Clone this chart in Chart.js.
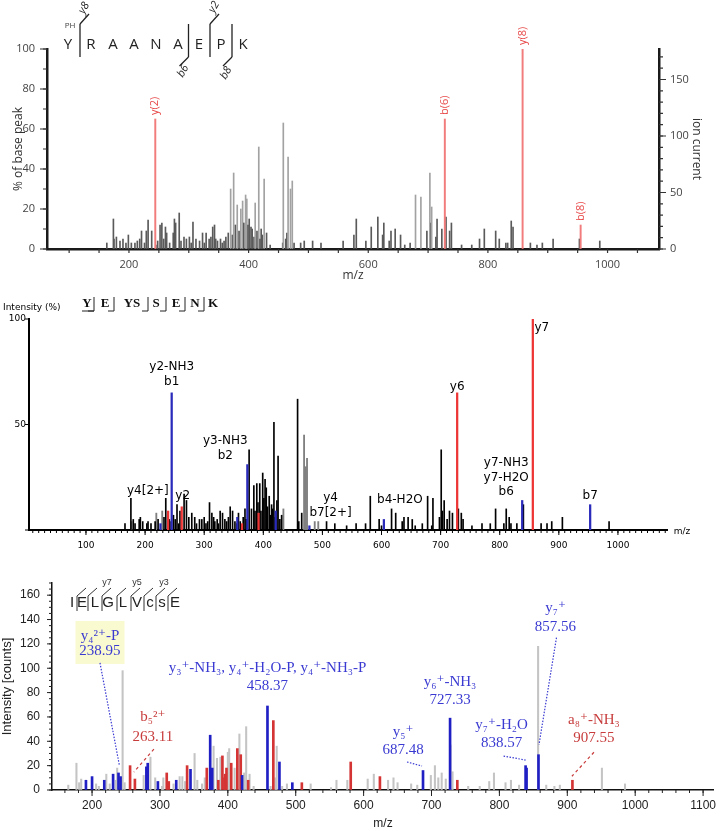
<!DOCTYPE html>
<html>
<head>
<meta charset="utf-8">
<title>MS/MS spectra</title>
<script src="https://cdn.jsdelivr.net/npm/chart.js@4.4.1/dist/chart.umd.min.js"></script>
<style>
  body { margin: 0; background: #fff; }
  .wrap { position: relative; width: 724px; height: 831px; overflow: hidden; }
  canvas { position: absolute; left: 0; }
</style>
</head>
<body>
<div class="wrap">
  <canvas id="top" width="724" height="290" style="top:0"></canvas>
  <canvas id="mid" width="724" height="265" style="top:290px"></canvas>
  <canvas id="bottom" width="724" height="276" style="top:555px"></canvas>
</div>
<script>
// ---- panel 1: YRAANAEPK (% of base peak) ----
const p1GreyMz = [
  163, 174, 175, 179, 185, 190, 195, 199, 204, 210,
  214, 218, 221, 226, 229, 232, 238, 245, 248, 252,
  255, 258, 261, 263, 268, 274, 276, 278, 284, 287,
  292, 296, 301, 304, 307, 312, 318, 323, 326, 329,
  334, 337, 340, 343, 345, 348, 353, 356, 359, 362,
  366, 370, 373, 375, 378, 381, 384, 387, 390, 392,
  395, 397, 399, 401, 404, 406, 409, 411, 414, 417,
  419, 421, 423, 426, 430, 436, 457, 458, 462, 464,
  466, 470, 473, 476, 487, 493, 507, 521, 558, 576,
  580, 596, 605, 616, 624, 626, 635, 638, 645, 654,
  661, 670, 679, 688, 698, 703, 705, 706, 713, 715,
  723, 730, 736, 739, 756, 773, 786, 794, 813, 819,
  830, 833, 839, 842, 871, 882, 891, 909, 953, 987
];
const p1GreyInt = [
  3, 15, 5, 6, 4, 5, 3, 7, 3, 3,
  4, 5, 9, 3, 9, 14.5, 9, 2, 4, 12,
  13, 5, 11, 8, 3, 8, 15, 13, 18, 4,
  6, 5, 6, 3, 13.5, 5, 4, 8, 3, 8,
  5, 6, 11, 12, 5, 4, 5, 3, 4, 6,
  8, 30, 7, 38, 12, 22, 9, 20, 24, 13,
  27, 25, 12, 15, 11, 10, 6, 23, 9, 51,
  5, 10, 7, 35, 8, 2, 3, 63, 5, 8,
  46, 30, 34, 3, 3, 4, 4, 3, 4, 7,
  15, 4, 11, 16, 7, 13, 4, 9, 10, 7,
  2, 3, 27, 26, 9, 38, 13, 21, 6, 15,
  10, 16, 9, 13, 2, 2, 5, 10, 9, 5,
  3, 3, 14, 11, 3, 2, 3, 5, 5, 4
];
const p1RedMz = [244, 728, 858, 955];
const p1RedInt = [65, 65, 100, 12];
const p1RedLabels = ['y(2)', 'b(6)', 'y(8)', 'b(8)'];
const p1XTicks = [200, 400, 600, 800, 1000];
const p1YTicks = [0, 20, 40, 60, 80, 100];
const p1IonTicks = [0, 50, 100, 150];
const p1IonMax = 177;
const p1Residues = ['Y', 'R', 'A', 'A', 'N', 'A', 'E', 'P', 'K'];

// ---- panel 2: YEYSSENK (Intensity %) ----
const p2BlackMz = [
  166, 176, 180, 183, 190, 192, 196, 203, 205, 210,
  217, 222, 232, 235, 241, 244, 248, 251, 254, 257,
  259, 266, 270, 274, 279, 284, 287, 292, 296, 300,
  303, 306, 309, 313, 316, 318, 322, 324, 327, 331,
  335, 338, 341, 344, 348, 352, 355, 358, 361, 366,
  369, 371, 376, 380, 384, 386, 389, 391, 394, 396,
  399, 401, 403, 405, 407, 410, 412, 414, 416, 418,
  420, 423, 425, 428, 431, 458, 460, 465, 507, 521,
  541, 557, 573, 581, 596, 600, 617, 624, 635, 638,
  645, 652, 657, 669, 678, 685, 687, 698, 701, 703,
  706, 711, 715, 720, 730, 735, 738, 753, 770, 784,
  793, 807, 811, 816, 819, 829, 840, 870, 880, 888,
  906, 985
];
const p2BlackInt = [
  3, 15, 5, 3, 5, 6, 4, 3, 4, 3,
  4, 5, 6, 15, 5, 4, 7, 5, 12, 3,
  9, 17, 14, 6, 8, 6, 3, 5, 5, 6,
  3, 4, 13, 8, 6, 4, 5, 3, 9, 8,
  5, 4, 6, 11, 9, 4, 3, 8, 4, 6,
  10, 5, 38, 10, 21, 9, 22, 13, 22, 9,
  27, 15, 24, 20, 11, 16, 7, 12, 10, 51,
  6, 14, 35, 5, 7, 62, 4, 8, 4, 3,
  2, 3, 3, 16, 5, 2, 10, 8, 4, 6,
  6, 5, 2, 3, 16, 2, 15, 6, 38, 9,
  14, 5, 9, 8, 10, 8, 5, 2, 3, 3,
  10, 3, 10, 6, 3, 3, 12, 3, 3, 4,
  6, 4
];
const p2GreyMz = [177, 219, 229, 434, 469, 472, 474, 487, 493];
const p2GreyInt = [4, 8, 9, 10, 45, 30, 34, 4, 4];
const p2BlueMz = [226, 245, 356, 373, 421, 478, 604, 838, 953];
const p2BlueInt = [3, 65, 6, 31, 9, 2, 5, 14, 12];
const p2RedMz = [239, 262, 364, 392, 728, 856];
const p2RedInt = [9, 11, 3, 8, 65, 100];
const p2AnnText = [['y2-NH3', 'b1'], ['y3-NH3', 'b2'], ['y4[2+]'], ['y2'], ['y4', 'b7[2+]'],
                   ['b4-H2O'], ['y6'], ['y7'], ['y7-NH3', 'y7-H2O', 'b6'], ['b7']];
const p2AnnMz = [245, 373, 176, 262, 507, 604, 728, 856, 838, 953];
const p2XTicks = [100, 200, 300, 400, 500, 600, 700, 800, 900, 1000];
const p2YTicks = [50, 100];
const p2Residues = ['Y', 'E', 'YS', 'S', 'E', 'N', 'K'];

// ---- panel 3: IELGLVcsE (counts) ----
const p3GreyMz = [
  165, 177, 181, 184, 206, 210, 221, 226, 235, 237,
  245, 248, 276, 286, 293, 303, 305, 320, 329, 333,
  337, 351, 355, 362, 366, 379, 384, 389, 400, 402,
  410, 417, 424, 427, 432, 438, 463, 470, 472, 480,
  487, 522, 552, 560, 576, 606, 615, 636, 644, 650,
  670, 679, 699, 705, 710, 715, 721, 728, 731, 754,
  771, 785, 792, 809, 817, 829, 857, 869, 881, 889,
  951, 985
];
const p3GreyInt = [
  4, 22, 6, 9, 5, 3, 13, 5, 8, 18,
  98, 6, 12, 27, 10, 3, 10, 5, 11, 11,
  7, 30, 8, 5, 10, 36, 26, 27, 31, 34,
  18, 46, 14, 52, 13, 3, 3, 10, 36, 3,
  5, 5, 2, 8, 8, 9, 13, 8, 10, 6,
  5, 4, 12, 20, 10, 14, 9, 37, 15, 3,
  3, 7, 14, 6, 8, 4, 118, 4, 3, 4,
  18, 5
];
const p3BlueMz = [191, 200, 218, 231, 238.95, 242, 280, 282, 297, 324,
                  345, 374, 377, 421, 458.37, 476, 495, 687.48, 727.33, 838.57,
                  840, 857.56];
const p3BlueInt = [8, 11, 8, 13, 14, 11, 19, 22, 7, 8,
                   17, 45, 18, 12, 69, 23, 6, 16, 59, 20,
                   18, 29];
const p3RedMz = [256, 263.11, 310, 313, 340, 369, 386, 392, 395, 396,
                 398, 405, 414, 419, 430, 467, 509, 581, 624, 738,
                 907.55];
const p3RedInt = [20, 9, 14, 7, 20, 18, 8, 28, 10, 13,
                  18, 22, 34, 29, 8, 57, 6, 23, 11, 8,
                  8];
const p3AnnName = ['y₄²⁺-P', 'b₅²⁺', 'y₃⁺-NH₃, y₄⁺-H₂O-P, y₄⁺-NH₃-P', 'y₇⁺',
                   'y₆⁺-NH₃', 'y₅⁺', 'y₇⁺-H₂O', 'a₈⁺-NH₃'];
const p3AnnMz = [238.95, 263.11, 458.37, 857.56, 727.33, 687.48, 838.57, 907.55];
const p3XTicks = [200, 300, 400, 500, 600, 700, 800, 900, 1000, 1100];
const p3YTicks = [0, 20, 40, 60, 80, 100, 120, 140, 160];
const p3Residues = ['I', 'E', 'L', 'G', 'L', 'V', 'c', 's', 'E'];

// ---- helpers ----
const OPEN = '"Open Sans", sans-serif';
const VERD = '"DejaVu Sans", Verdana, sans-serif';
const ARIAL = '"Liberation Sans", Arial, sans-serif';
const SERIF = '"Liberation Serif", "DejaVu Serif", serif';

function sticks(mz, val, color, width) {
  return {
    data: mz.map((m, i) => ({ x: m, y: val[i] })),
    backgroundColor: color,
    borderWidth: 0,
    grouped: false,
    barThickness: width
  };
}

function heightAt(series, m) {
  let h = 0;
  series.forEach(([mz, val]) => mz.forEach((v, i) => { if (v === m) h = Math.max(h, val[i]); }));
  return h;
}

function fixedTicks(list) {
  return s => { s.ticks = list.map(v => ({ value: v })); };
}

function write(ctx, str, x, y, font, color, align, angle) {
  ctx.save();
  ctx.translate(x, y);
  if (angle) ctx.rotate(angle);
  ctx.font = font;
  ctx.fillStyle = color;
  ctx.textAlign = align || 'center';
  ctx.textBaseline = 'middle';
  ctx.fillText(str, 0, 0);
  ctx.restore();
}

function path(ctx, pts, color, width, dash) {
  ctx.save();
  ctx.strokeStyle = color;
  ctx.lineWidth = width;
  ctx.setLineDash(dash || []);
  ctx.beginPath();
  pts.forEach(([px, py], i) => i ? ctx.lineTo(px, py) : ctx.moveTo(px, py));
  ctx.stroke();
  ctx.restore();
}

// outward tick marks every `step` units along a scale
function tickMarks(ctx, scale, step, len, color, width) {
  ctx.save();
  ctx.strokeStyle = color;
  ctx.lineWidth = width;
  ctx.beginPath();
  for (let k = Math.ceil(scale.min / step); k * step <= scale.max + 1e-9; k++) {
    const p = scale.getPixelForValue(k * step);
    if (scale.isHorizontal()) {
      ctx.moveTo(p, scale.top); ctx.lineTo(p, scale.top + len);
    } else if (scale.position === 'left') {
      ctx.moveTo(scale.right, p); ctx.lineTo(scale.right - len, p);
    } else {
      ctx.moveTo(scale.left, p); ctx.lineTo(scale.left + len, p);
    }
  }
  ctx.stroke();
  ctx.restore();
}

function baseScale(o) {
  return Object.assign({
    type: 'linear',
    offset: false,
    grid: { drawOnChartArea: false, drawTicks: false },
    ticks: { autoSkip: false, maxRotation: 0, callback: v => String(v) }
  }, o);
}

const common = {
  responsive: false,
  animation: false,
  events: [],
  plugins: { legend: { display: false }, tooltip: { enabled: false } }
};

// ---- chart 1 ----
const topDeco = {
  id: 'topDeco',
  afterDraw(chart) {
    const ctx = chart.ctx, x = chart.scales.x, y = chart.scales.y, ion = chart.scales.ion;
    tickMarks(ctx, x, 50, 4, '#333', 1.2);
    tickMarks(ctx, y, 10, 4, '#333', 1.2);
    tickMarks(ctx, y, 20, 7, '#333', 1.2);
    tickMarks(ctx, ion, 10, 4, '#333', 1.2);
    tickMarks(ctx, ion, 50, 7, '#333', 1.2);

    p1RedMz.forEach((m, i) => {
      write(ctx, p1RedLabels[i], x.getPixelForValue(m), y.getPixelForValue(p1RedInt[i]) - 4,
            '11px ' + OPEN, '#e84a4a', 'left', -Math.PI / 2);
    });

    const resX = [68, 91, 113, 134, 156, 178, 199, 221, 243];
    p1Residues.forEach((r, i) => write(ctx, r, resX[i], 45, '15px ' + OPEN, '#222'));
    write(ctx, 'PH', 70, 26, '8px ' + OPEN, '#444');
    const cuts = [
      { x: 80, up: true, label: 'y8', lx: 84, ly: 8 },
      { x: 188.5, up: false, label: 'b6', lx: 183, ly: 71 },
      { x: 210, up: true, label: 'y2', lx: 214, ly: 7 },
      { x: 232, up: false, label: 'b8', lx: 226, ly: 73 }
    ];
    cuts.forEach(c => {
      path(ctx, [[c.x, 24], [c.x, 57]], '#222', 1.3);
      if (c.up) path(ctx, [[c.x, 24], [c.x + 9, 14]], '#222', 1.3);
      else path(ctx, [[c.x, 57], [c.x - 9, 66]], '#222', 1.3);
      write(ctx, c.label, c.lx, c.ly, 'italic 11px ' + OPEN, '#222', 'center', -1.05);
    });
  }
};

new Chart(document.getElementById('top'), {
  type: 'bar',
  data: {
    datasets: [
      sticks(p1RedMz, p1RedInt, '#f27c7c', 1.3),
      Object.assign(sticks(p1GreyMz, p1GreyInt, '#666', 1),
        { backgroundColor: c => (c.raw && c.raw.y >= 20 ? '#a2a2a2' : '#5a5a5a') })
    ]
  },
  options: Object.assign({}, common, {
    layout: { padding: { top: 49, left: 0, right: 0, bottom: 0 } },
    scales: {
      x: baseScale({
        min: 63, max: 1086,
        border: { display: true, color: '#1a1a1a', width: 2.5 },
        ticks: { autoSkip: false, maxRotation: 0, padding: 9, color: '#444', font: { family: OPEN, size: 11 }, callback: v => String(v) },
        title: { display: true, text: 'm/z', color: '#333', font: { family: OPEN, size: 12 }, padding: { top: 0, bottom: 7 } },
        afterBuildTicks: fixedTicks(p1XTicks),
        afterFit: s => { s.height = 41; }
      }),
      y: baseScale({
        position: 'left', min: 0, max: 100,
        border: { display: true, color: '#1a1a1a', width: 2.5 },
        ticks: { autoSkip: false, padding: 12, color: '#444', font: { family: OPEN, size: 11 }, callback: v => String(v) },
        title: { display: true, text: '% of base peak', color: '#333', font: { family: OPEN, size: 12 }, padding: { top: 11, bottom: 0 } },
        afterBuildTicks: fixedTicks(p1YTicks),
        afterFit: s => { s.width = 47; }
      }),
      ion: baseScale({
        position: 'right', min: 0, max: p1IonMax,
        border: { display: true, color: '#1a1a1a', width: 2.5 },
        ticks: { autoSkip: false, padding: 11, color: '#444', font: { family: OPEN, size: 11 }, callback: v => String(v) },
        title: { display: true, text: 'ion current', color: '#333', font: { family: OPEN, size: 12 }, padding: { top: 20, bottom: 0 } },
        afterBuildTicks: fixedTicks(p1IonTicks),
        afterFit: s => { s.width = 65; }
      })
    }
  }),
  plugins: [topDeco]
});

// ---- chart 2 ----
const midDeco = {
  id: 'midDeco',
  afterDraw(chart) {
    const ctx = chart.ctx, x = chart.scales.x, y = chart.scales.y;
    tickMarks(ctx, x, 10, 3, '#000', 1);
    tickMarks(ctx, x, 100, 5, '#000', 1);
    tickMarks(ctx, y, 50, 4, '#000', 1.2);

    write(ctx, 'Intensity (%)', 3, 18, '9px ' + VERD, '#000', 'left');
    write(ctx, 'm/z', 682, 242, '9px ' + VERD, '#000');

    const resX = [87, 105, 132, 156, 176, 195, 213];
    p2Residues.forEach((r, i) => write(ctx, r, resX[i], 14, 'bold 13px ' + SERIF, '#111'));
    const seps = [94, 114, 148, 166, 185, 204];
    seps.forEach(sx => path(ctx, [[sx - 6, 21], [sx, 21], [sx, 7]], '#222', 1));
    path(ctx, [[82, 21], [94, 21]], '#222', 1);

    const series = [[p2BlackMz, p2BlackInt], [p2GreyMz, p2GreyInt], [p2BlueMz, p2BlueInt], [p2RedMz, p2RedInt]];
    const place = [
      { dx: 0, dy: -11 }, { dx: -22, dy: -9 }, { dx: 17, dy: -7 }, { dx: 1, dy: -11 },
      { dx: 4, dy: -9 }, { dx: 16, dy: -19.5 }, { dx: 0, dy: -6 }, { dx: 9, dy: 9 },
      { dx: -16, dy: -8.5 }, { dx: 0, dy: -9 }
    ];
    p2AnnText.forEach((lines, i) => {
      const m = p2AnnMz[i];
      const px = x.getPixelForValue(m) + place[i].dx;
      const py = y.getPixelForValue(heightAt(series, m)) + place[i].dy;
      lines.forEach((t, k) => write(ctx, t, px, py - (lines.length - 1 - k) * 14.5, '12px ' + VERD, '#000'));
    });
  }
};

new Chart(document.getElementById('mid'), {
  type: 'bar',
  data: {
    datasets: [
      sticks(p2RedMz, p2RedInt, '#ee3535', 1.6),
      sticks(p2BlueMz, p2BlueInt, '#2b2bbb', 1.6),
      sticks(p2BlackMz, p2BlackInt, '#000', 1),
      sticks(p2GreyMz, p2GreyInt, '#808080', 1.2)
    ]
  },
  options: Object.assign({}, common, {
    layout: { padding: { top: 29, left: 0, right: 57, bottom: 0 } },
    scales: {
      x: baseScale({
        min: 3.6, max: 1083,
        border: { display: true, color: '#000', width: 2 },
        ticks: { autoSkip: false, maxRotation: 0, padding: 10, color: '#000', font: { family: VERD, size: 9 }, callback: v => String(v) },
        afterBuildTicks: fixedTicks(p2XTicks),
        afterFit: s => { s.height = 25; }
      }),
      y: baseScale({
        position: 'left', min: 0, max: 100,
        border: { display: true, color: '#000', width: 2 },
        ticks: { autoSkip: false, padding: 3, color: '#000', font: { family: VERD, size: 9 }, callback: v => String(v) },
        afterBuildTicks: fixedTicks(p2YTicks),
        afterFit: s => { s.width = 29; }
      })
    }
  }),
  plugins: [midDeco]
});

// ---- chart 3 ----
const bottomDeco = {
  id: 'bottomDeco',
  afterDraw(chart) {
    const ctx = chart.ctx, x = chart.scales.x, y = chart.scales.y;
    tickMarks(ctx, x, 20, 3, '#222', 1);
    tickMarks(ctx, x, 100, 6, '#222', 1);
    tickMarks(ctx, y, 5, 3, '#222', 1);
    tickMarks(ctx, y, 20, 5, '#222', 1);

    // sequence with fragment marks
    const resX = [72, 82, 95, 108, 123, 137, 150, 162, 175];
    p3Residues.forEach((r, i) => write(ctx, r, resX[i], 48, '15px ' + ARIAL, '#222'));
    [77, 88, 102, 117, 131, 144, 156, 168].forEach(sx =>
      path(ctx, [[sx, 56], [sx, 41], [sx + 9, 33]], '#333', 1));
    [['y7', 107], ['y5', 137], ['y3', 164]].forEach(([t, lx]) =>
      write(ctx, t, lx, 28, '9px ' + ARIAL, '#333'));

    const series = [[p3BlueMz, p3BlueInt], [p3RedMz, p3RedInt]];
    const blue = '#3a3ad2', red = '#c83c3c';
    const place = [
      { dx: -18.5, dy: -122, lead: 15, from: [0, 12], to: [1, -7], c: blue, box: true },
      { dx: 18, dy: -42, lead: 20, from: [1, 12], to: [-1, -7], c: red },
      { dx: 0, dy: -20, lead: 18, c: blue },
      { dx: 17, dy: -128, lead: 19, from: [1, 11], to: [0.5, -10], c: blue },
      { dx: 0, dy: -18, lead: 18, c: blue },
      { dx: -20, dy: -20.5, lead: 18, from: [4, 12], to: [-1, -4.5], c: blue },
      { dx: -24, dy: -22.6, lead: 18, from: [2, 13], to: [0, -5.6], c: blue },
      { dx: 21.5, dy: -42, lead: 18, from: [0, 14], to: [-0.5, -4], c: red }
    ];
    p3AnnMz.forEach((m, i) => {
      const p = place[i];
      const px = x.getPixelForValue(m), top = y.getPixelForValue(heightAt(series, m));
      const lx = px + p.dx, ly = top + p.dy;
      if (p.box) {
        ctx.fillStyle = '#fafad0';
        ctx.fillRect(lx - 24.5, ly - p.lead - 15, 49, p.lead + 28);
      }
      write(ctx, p3AnnName[i], lx, ly - p.lead, '15px ' + SERIF, p.c);
      write(ctx, m.toFixed(2), lx, ly, '15px ' + SERIF, p.c);
      if (p.from) {
        path(ctx, [[lx + p.from[0], ly + p.from[1]], [px + p.to[0], top + p.to[1]]], p.c, 1.2,
             p.c === blue ? [1.5, 1.5] : [3, 3]);
      }
    });
  }
};

new Chart(document.getElementById('bottom'), {
  type: 'bar',
  data: {
    datasets: [
      sticks(p3BlueMz, p3BlueInt, '#1f1fc4', 2),
      sticks(p3RedMz, p3RedInt, '#d43434', 2),
      sticks(p3GreyMz, p3GreyInt, '#c4c4c4', 1.4)
    ]
  },
  options: Object.assign({}, common, {
    layout: { padding: { top: 28, left: 0, right: 1, bottom: 0 } },
    scales: {
      x: baseScale({
        min: 141, max: 1116,
        border: { display: true, color: '#111', width: 1.5 },
        ticks: { autoSkip: false, maxRotation: 0, padding: 8, color: '#222', font: { family: ARIAL, size: 12 }, callback: v => String(v) },
        title: { display: true, text: 'm/z', color: '#222', font: { family: ARIAL, size: 12 }, padding: { top: 0, bottom: 0 } },
        afterBuildTicks: fixedTicks(p3XTicks),
        afterFit: s => { s.height = 41; }
      }),
      y: baseScale({
        position: 'left', min: 0, max: 170,
        border: { display: true, color: '#111', width: 1.5 },
        ticks: { autoSkip: false, padding: 12, color: '#222', font: { family: ARIAL, size: 12 }, callback: v => String(v) },
        title: { display: true, text: 'Intensity [counts]', color: '#222', font: { family: ARIAL, size: 13 }, padding: { top: 0, bottom: 0 } },
        afterBuildTicks: fixedTicks(p3YTicks),
        afterFit: s => { s.width = 52; }
      })
    }
  }),
  plugins: [bottomDeco]
});
</script>
</body>
</html>
